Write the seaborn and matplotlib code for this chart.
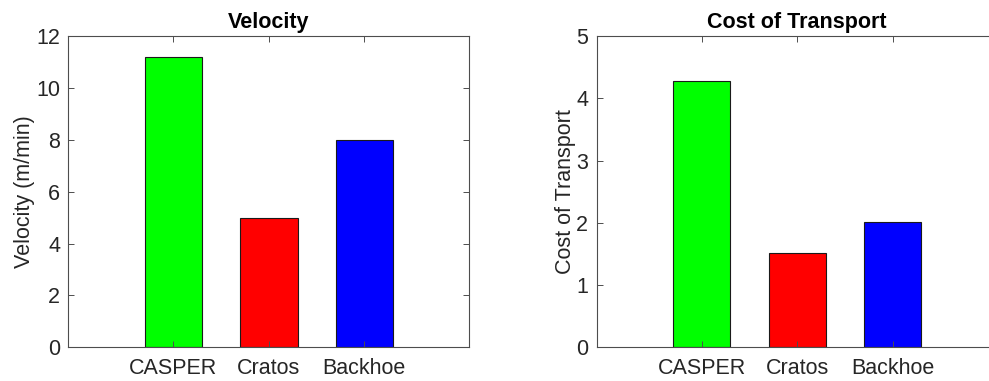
import matplotlib
matplotlib.use("Agg")
import matplotlib.pyplot as plt
import seaborn as sns
import pandas as pd

robots = ["CASPER", "Cratos", "Backhoe"]
velocity = [11.2, 5.0, 8.0]
cost_of_transport = [4.28, 1.52, 2.01]
bar_colors = ["#00ff00", "#ff0000", "#0000ff"]

sns.set_theme(style="white")
plt.rcParams["font.family"] = ["Liberation Sans", "DejaVu Sans"]

axis_gray = "#262626"
spine_gray = "#4d4d4d"

fig = plt.figure(figsize=(9.89, 3.81), dpi=100)
ax1 = fig.add_axes([0.0691, 0.0885, 0.4055, 0.8170])
ax2 = fig.add_axes([0.6033, 0.0885, 0.4055, 0.8170])

panels = [
    (ax1, velocity, "Velocity", "Velocity (m/min)", 12, range(0, 13, 2)),
    (ax2, cost_of_transport, "Cost of Transport", "Cost of Transport", 5, range(0, 6)),
]

for ax, values, title, ylabel, ymax, yticks in panels:
    df = pd.DataFrame({"robot": robots, "value": values})
    sns.barplot(data=df, x="robot", y="value", hue="robot", palette=bar_colors,
                width=0.6, edgecolor="#1a1a1a", linewidth=0.8, legend=False,
                saturation=1, ax=ax)
    ax.set_xlim(-1.1, 3.1)
    ax.set_ylim(0, ymax)
    ax.set_yticks(list(yticks))
    ax.set_title(title, fontsize=15.5, fontweight="bold", color="black", pad=6)
    ax.set_ylabel(ylabel, fontsize=15.5, color=axis_gray, labelpad=0.5)
    ax.set_xlabel("")
    ax.tick_params(axis="both", which="both", direction="in", length=4, width=0.7,
                   top=True, right=True, bottom=True, left=True,
                   labelsize=15.5, colors=spine_gray, labelcolor=axis_gray, pad=6)
    ax.tick_params(axis="x", pad=8)
    ax.set_axisbelow(False)
    for s in ax.spines.values():
        s.set_visible(True)
        s.set_color(spine_gray)
        s.set_linewidth(0.8)

fig.savefig("out.png", dpi=100)
